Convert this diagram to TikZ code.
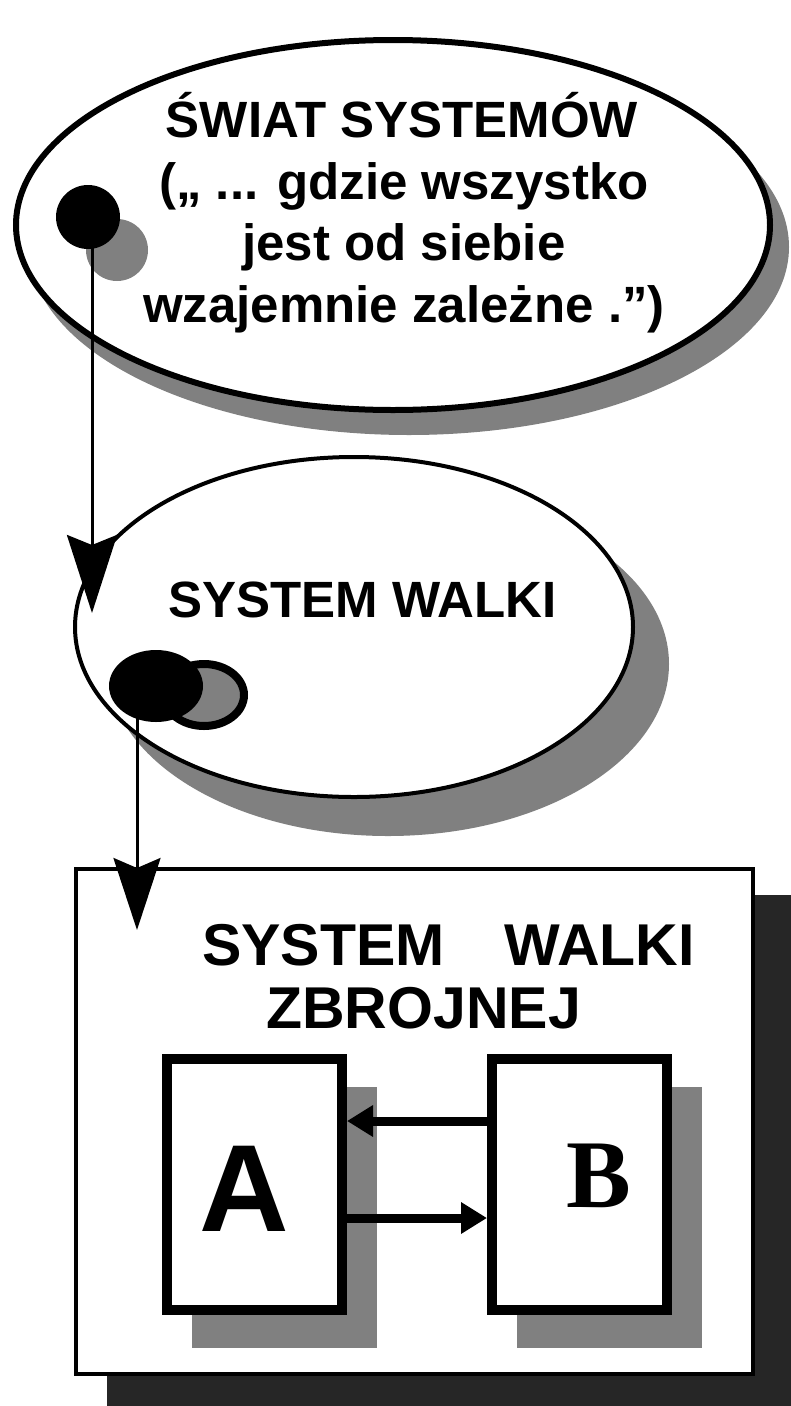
\documentclass[tikz,border=0pt]{standalone}
\usepackage{fontspec}
\setmainfont{Liberation Sans}
\newfontfamily\serifbold{Liberation Serif}
\usetikzlibrary{arrows.meta,shapes.geometric}
\begin{document}
\begin{tikzpicture}[x=1pt,y=-1pt,
  halftone/.style={fill=black!50},
  darkshadow/.style={fill=black!85},
  bigtxt/.style={font=\fontsize{51}{51}\selectfont\bfseries, inner sep=0pt},
  boxtxt/.style={font=\fontsize{59}{59}\selectfont\bfseries, inner sep=0pt, anchor=base west},
  oval/.style={ellipse, draw, fill=white, inner sep=0pt},
  lettbox/.style={draw, line width=10pt, fill=white, minimum width=175pt, minimum height=251pt, inner sep=0pt},
  vline/.style={line width=3pt},
  hline/.style={line width=9pt, -{Triangle[length=26pt, width=30pt]}}
]
\useasboundingbox (0,0) rectangle (791,1406);
\fill[white] (0,0) rectangle (791,1406);

% ---- top ellipse ----
\fill[halftone] (409,247) ellipse [x radius=380, y radius=188];
\node[oval, line width=6pt, minimum width=754pt, minimum height=370pt] (world) at (393,225) {};
\node[bigtxt, anchor=base] (t1) at (402,137) {ŚWIAT SYSTEMÓW};
\node[bigtxt, anchor=base] (t2) at (404,199) {(„ ... gdzie wszystko};
\node[bigtxt, anchor=base] (t3) at (404,260) {jest od siebie};
\node[bigtxt, anchor=base] (t4) at (404,322) {wzajemnie zależne .”)};
\fill[halftone] (117,250) circle (31);
\node[circle, fill=black, minimum size=64pt, inner sep=0pt] (dot1) at (88,217) {};

% ---- middle ellipse ----
\fill[halftone] (388,664) ellipse [x radius=281, y radius=172];
\node[oval, line width=4pt, minimum width=558pt, minimum height=340pt] (fight) at (354,627) {};
\node[bigtxt, anchor=base west] (t5) at (168,617) {SYSTEM WALKI};
\node[ellipse, draw, line width=8pt, fill=black!50, minimum width=80pt, minimum height=62pt, inner sep=0pt] (ring) at (204,695) {};
\node[ellipse, fill=black, minimum width=94pt, minimum height=72pt, inner sep=0pt] (dot2) at (156,686) {};

% ---- box ----
\fill[darkshadow] (107,895) rectangle (800,1420);
\node[draw, line width=4pt, fill=white, minimum width=677pt, minimum height=505pt, inner sep=0pt] (armed) at (414.5,1121.5) {};
\node[boxtxt] (t6) at (202,965) {SYSTEM\hspace{60pt}WALKI};
\node[boxtxt] (t7) at (266,1028) {ZBROJNEJ};

\fill[halftone] (192,1087) rectangle (377,1348);
\fill[halftone] (517,1087) rectangle (702,1348);
\node[lettbox] (boxA) at (254.5,1184.5) {};
\node[lettbox] (boxB) at (579.5,1184.5) {};
\node[font=\fontsize{124}{124}\selectfont\bfseries, inner sep=0pt, anchor=base] (la) at (244,1231) {A};
\node[font=\fontsize{97}{97}\selectfont\serifbold\bfseries, inner sep=0pt, anchor=base] (lb) at (599,1207) {B};

\coordinate (yu) at (0,1121);
\coordinate (yl) at (0,1218);
\draw[hline] (boxB.west |- yu) -- (boxA.east |- yu);
\draw[hline] (boxA.east |- yl) -- (boxB.west |- yl);

% ---- vertical connectors ----
\coordinate (tip1) at (92,613);
\coordinate (tip2) at (137,930);
\draw[vline, -{Stealth[length=78pt, width=50pt, inset=10pt]}] (dot1.center -| tip1) -- (tip1);
\draw[vline, -{Stealth[length=72pt, width=47pt, inset=10pt]}] (dot2.center -| tip2) -- (tip2);
\end{tikzpicture}
\end{document}
